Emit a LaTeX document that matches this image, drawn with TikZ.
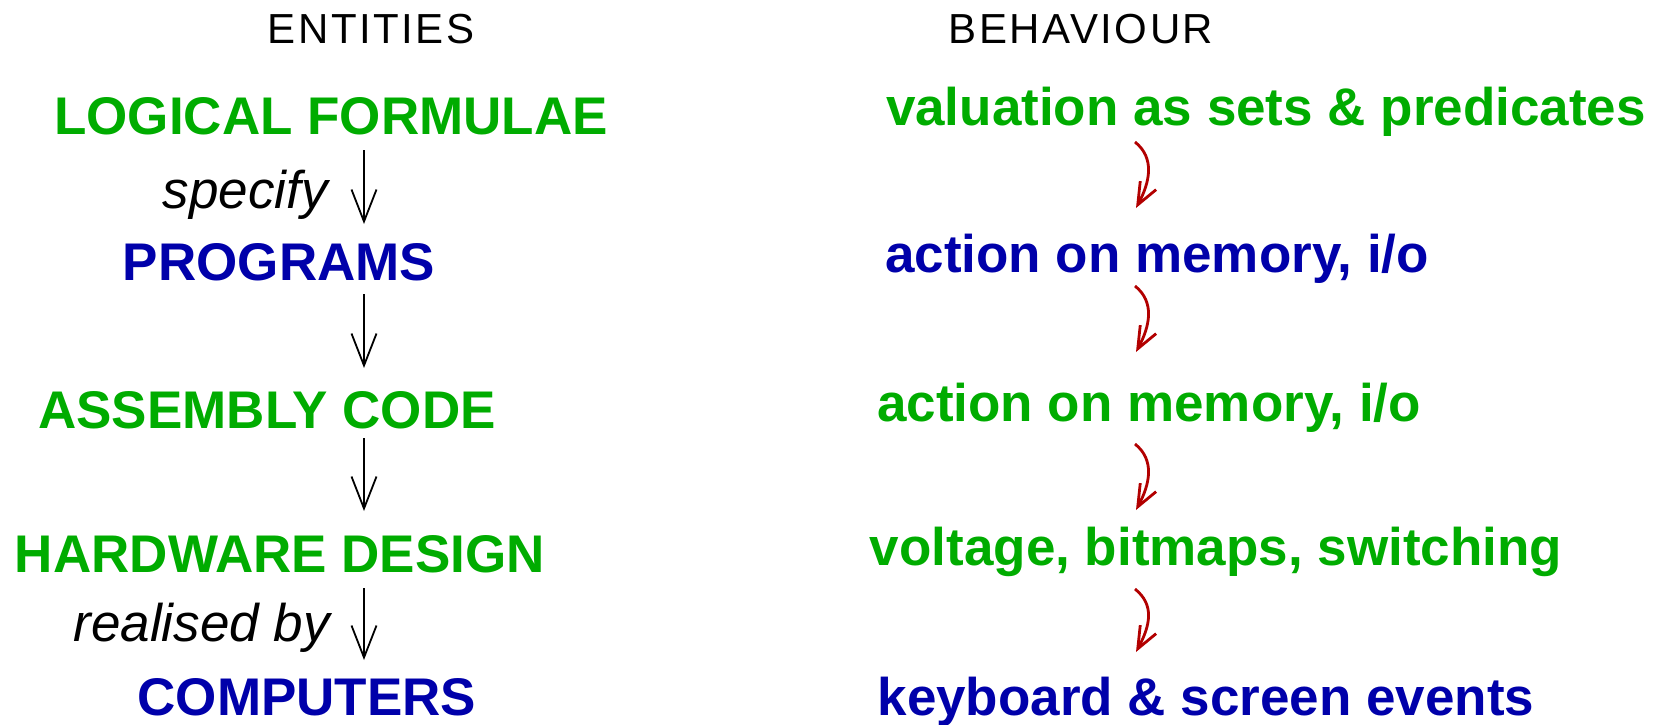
\documentclass[tikz,border=0pt]{standalone}
\usepackage{fontspec}
\setmainfont{Liberation Sans}
\usetikzlibrary{arrows.meta}
\definecolor{termgreen}{RGB}{0,172,0}
\definecolor{termblue}{RGB}{0,0,170}
\definecolor{stepred}{RGB}{178,0,0}
\tikzset{
  heading/.style={anchor=base, inner sep=0pt,
    font=\fontsize{42}{48}\selectfont\addfontfeature{LetterSpace=6}},
  term/.style={anchor=base, inner sep=0pt, font=\fontsize{53}{60}\selectfont\bfseries},
  greenterm/.style={term, text=termgreen},
  blueterm/.style={term, text=termblue},
  verb/.style={anchor=base east, inner sep=0pt, font=\fontsize{53}{60}\selectfont\itshape},
  refine/.style={draw, line width=1.8pt, -{Straight Barb[length=32pt,width=25pt]}},
  behave/.style={draw=stepred, line width=2.8pt, -{Straight Barb[length=22pt,width=18pt]}},
}
\begin{document}
\begin{tikzpicture}[x=1pt, y=-1pt]
  \useasboundingbox (0,0) rectangle (1657,725);

  % column headings
  \node[heading] (hent) at (371,44) {ENTITIES};
  \node[heading] (hbeh) at (1081,44) {BEHAVIOUR};

  % entities
  \node[greenterm] (lf) at (331,134) {LOGICAL FORMULAE};
  \node[blueterm]  (pr) at (279,280) {PROGRAMS};
  \node[greenterm] (as) at (267,428) {ASSEMBLY CODE};
  \node[greenterm] (hw) at (280,572) {HARDWARE DESIGN};
  \node[blueterm]  (co) at (307,715) {COMPUTERS};

  \node[verb] (sp) at (328,208) {specify};
  \node[verb] (rb) at (330,641) {realised by};

  % behaviours
  \node[greenterm] (va) at (1266,125) {valuation as sets \& predicates};
  \node[blueterm]  (am) at (1157,272) {action on memory, i/o};
  \node[greenterm] (aa) at (1149,421) {action on memory, i/o};
  \node[greenterm] (vo) at (1216,565) {voltage, bitmaps, switching};
  \node[blueterm]  (ke) at (1206,715) {keyboard \& screen events};

  % arrow end points between the entities
  \coordinate (e1s) at (364,150); \coordinate (e1t) at (364,224);
  \coordinate (e2s) at (364,294); \coordinate (e2t) at (364,368);
  \coordinate (e3s) at (364,438); \coordinate (e3t) at (364,511);
  \coordinate (e4s) at (364,588); \coordinate (e4t) at (364,660);
  \draw[refine] (e1s) -- (e1t);
  \draw[refine] (e2s) -- (e2t);
  \draw[refine] (e3s) -- (e3t);
  \draw[refine] (e4s) -- (e4t);

  % arrow end points between the behaviours
  \coordinate (b1s) at (1135,142); \coordinate (b1t) at (1136,208);
  \coordinate (b2s) at (1135,286); \coordinate (b2t) at (1136,352);
  \coordinate (b3s) at (1135,444); \coordinate (b3t) at (1136,510);
  \coordinate (b4s) at (1135,589); \coordinate (b4t) at (1136,652);
  \foreach \i in {1,2,3,4}
    \draw[behave] (b\i s) .. controls +(20,16) and +(14,-26) .. (b\i t);
\end{tikzpicture}
\end{document}
